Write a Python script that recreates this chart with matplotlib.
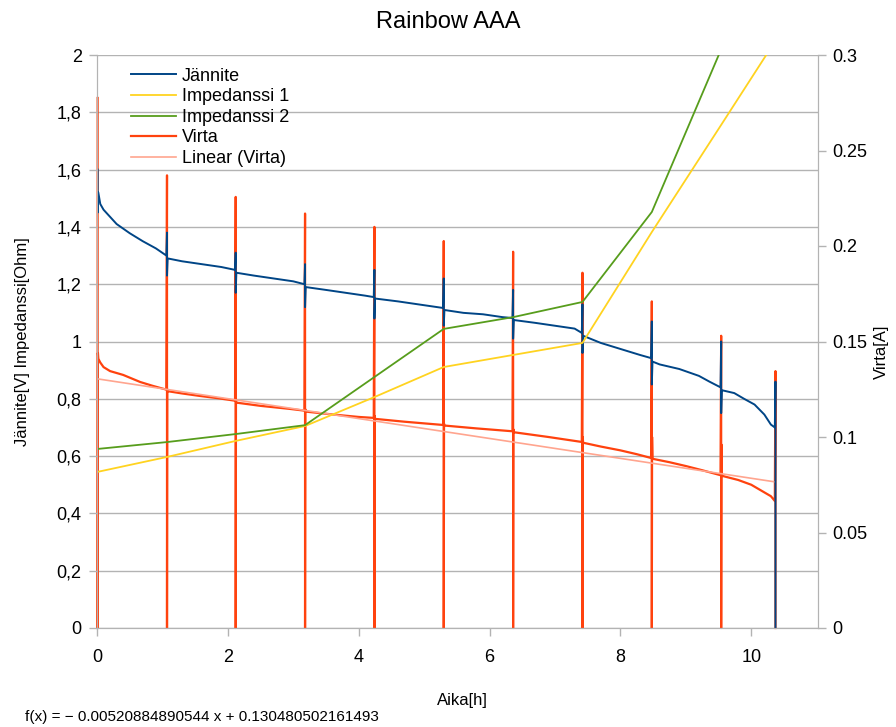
import matplotlib
matplotlib.use("Agg")
import matplotlib.pyplot as plt
import numpy as np
from matplotlib.ticker import FuncFormatter

plt.rcParams['font.family'] = ['Liberation Sans', 'DejaVu Sans']

# ---------------- data ----------------
# pulse (measurement) times [h]
pulse_t = [0.01, 1.07, 2.12, 3.18, 4.24, 5.30, 6.36, 7.42, 8.48, 9.54, 10.37]

# voltage spikes at pulses (high, low) [V]
v_hi = [1.60, 1.38, 1.31, 1.27, 1.25, 1.22, 1.18, 1.13, 1.07, 1.00, 0.86]
v_lo = [1.45, 1.23, 1.17, 1.12, 1.08, 1.055, 1.01, 0.96, 0.85, 0.75, 0.0]

# voltage baseline between pulses: (time, value)
v_seg_t = [
    [0.02, 0.05, 0.1, 0.2, 0.3, 0.5, 0.7, 0.9, 1.06],
    [1.08, 1.3, 1.6, 1.9, 2.11],
    [2.13, 2.4, 2.7, 3.0, 3.17],
    [3.19, 3.5, 3.8, 4.1, 4.23],
    [4.25, 4.6, 4.9, 5.2, 5.29],
    [5.31, 5.6, 5.9, 6.2, 6.35],
    [6.37, 6.7, 7.0, 7.3, 7.41],
    [7.43, 7.7, 8.0, 8.3, 8.47],
    [8.49, 8.6, 8.9, 9.2, 9.36, 9.53],
    [9.55, 9.74, 9.89, 10.05, 10.2, 10.3, 10.36],
]
v_seg_v = [
    [1.52, 1.48, 1.46, 1.435, 1.41, 1.378, 1.35, 1.325, 1.30],
    [1.29, 1.28, 1.27, 1.26, 1.25],
    [1.24, 1.23, 1.22, 1.21, 1.20],
    [1.19, 1.18, 1.17, 1.16, 1.155],
    [1.15, 1.14, 1.13, 1.12, 1.117],
    [1.11, 1.10, 1.095, 1.085, 1.082],
    [1.075, 1.065, 1.055, 1.045, 1.03],
    [1.02, 0.995, 0.974, 0.953, 0.942],
    [0.93, 0.92, 0.904, 0.88, 0.86, 0.84],
    [0.83, 0.82, 0.80, 0.78, 0.745, 0.71, 0.70],
]

# current spikes at pulses (peak) [A], then drop to 0, small bump after
i_peak = [0.2775, 0.237, 0.2257, 0.217, 0.210, 0.2026, 0.197, 0.186, 0.171, 0.153, 0.1345]
i_bump = [0.144, 0.125, 0.119, 0.1145, 0.111, 0.107, 0.104, 0.100, 0.100, 0.096, 0.0]

# current baseline between pulses
i_seg_t = [
    [0.02, 0.05, 0.1, 0.2, 0.4, 0.66, 0.85, 1.06],
    [1.08, 1.3, 1.57, 1.85, 2.11],
    [2.13, 2.5, 2.95, 3.17],
    [3.19, 3.6, 4.0, 4.23],
    [4.25, 4.7, 5.29],
    [5.31, 5.8, 6.35],
    [6.37, 6.9, 7.41],
    [7.43, 7.7, 8.0, 8.25, 8.47],
    [8.49, 8.75, 9.0, 9.25, 9.53],
    [9.55, 9.8, 10.0, 10.2, 10.3, 10.36],
]
i_seg_v = [
    [0.141, 0.139, 0.1366, 0.1345, 0.1325, 0.1288, 0.1268, 0.1248],
    [0.124, 0.1228, 0.1215, 0.1203, 0.119],
    [0.118, 0.1163, 0.1147, 0.1138],
    [0.1133, 0.1118, 0.1105, 0.110],
    [0.1095, 0.108, 0.1063],
    [0.106, 0.1045, 0.103],
    [0.1025, 0.100, 0.0974],
    [0.097, 0.0950, 0.0930, 0.0910, 0.0890],
    [0.0886, 0.0868, 0.0848, 0.0826, 0.0800],
    [0.0797, 0.0775, 0.0750, 0.0710, 0.0690, 0.0665],
]

# impedances at pulse times [Ohm]
imp1 = [0.545, 0.597, 0.653, 0.705, 0.806, 0.911, 0.953, 0.995, 1.382, 1.756, 2.05]
imp2 = [0.625, 0.649, 0.677, 0.708, 0.876, 1.044, 1.085, 1.138, 1.452, 2.02, 2.70]

# linear trend of current (from the chart's own formula)
trend_slope = -0.00520884890544
trend_icept = 0.130480502161493

# ---------------- build series ----------------
vt, vv = [], []
it, iv = [], []
for k, p in enumerate(pulse_t):
    vt += [p, p]
    vv += [v_hi[k], v_lo[k]]
    it += [p, p]
    iv += [i_peak[k], 0.0]
    if i_bump[k] > 0:
        it.append(p + 0.004)
        iv.append(i_bump[k])
    if k < len(v_seg_t):
        vt += v_seg_t[k]
        vv += v_seg_v[k]
        it += i_seg_t[k]
        iv += i_seg_v[k]

# ---------------- figure ----------------
fig = plt.figure(figsize=(8.96, 7.27), dpi=100)
ax1 = fig.add_axes([97/896, 1-628/727, (818-97)/896, (628-55)/727])
ax2 = ax1.twinx()
ax1.set_zorder(ax2.get_zorder() + 1)
ax1.patch.set_visible(False)

gray = '#b3b3b3'
for y in np.arange(0, 2.01, 0.2):
    ax2.axhline(y * 0.15, color=gray, lw=1.0, zorder=0)

c_v = '#004586'
c_i1 = '#ffd320'
c_i2 = '#579d1c'
c_c = '#ff420e'
c_tr = '#ffa58f'

l1, = ax1.plot(vt, vv, color=c_v, lw=1.4, label='Jännite')
l2, = ax1.plot(pulse_t, imp1, color=c_i1, lw=1.3, label='Impedanssi 1')
l3, = ax1.plot(pulse_t, imp2, color=c_i2, lw=1.3, label='Impedanssi 2')
l4, = ax2.plot(it, iv, color=c_c, lw=1.6, label='Virta', clip_on=False)
tx = np.array([0.0, pulse_t[-1]])
l5, = ax2.plot(tx, trend_slope * tx + trend_icept, color=c_tr, lw=1.2, label='Linear (Virta)')

ax1.set_xlim(0, 11.02)
ax1.set_ylim(0, 2)
ax2.set_ylim(0, 0.3)
ax1.set_xticks([0, 2, 4, 6, 8, 10])
ax1.set_yticks(np.arange(0, 2.01, 0.2))
ax1.yaxis.set_major_formatter(FuncFormatter(lambda v, p: ('%g' % round(v, 1)).replace('.', ',')))
ax2.set_yticks([0, 0.05, 0.1, 0.15, 0.2, 0.25, 0.3])
ax2.yaxis.set_major_formatter(FuncFormatter(lambda v, p: '%g' % round(v, 2)))

for ax in (ax1, ax2):
    for s in ax.spines.values():
        s.set_color(gray)
    ax.tick_params(colors=gray, labelcolor='black', labelsize=13, length=6, width=1)
ax1.spines['top'].set_visible(False)
ax2.spines['top'].set_visible(False)
ax1.tick_params(axis='x', pad=9)
ax1.tick_params(axis='y', pad=5)
ax2.tick_params(axis='y', pad=4)

ax1.set_xlabel('Aika[h]', fontsize=12)
ax1.xaxis.set_label_coords((462-97)/(818-97), -(693-628)/(628-55))
ax1.set_ylabel('Jännite[V] Impedanssi[Ohm]', fontsize=12)
ax1.yaxis.set_label_coords(-(97-30)/(818-97), 0.5)
ax2.set_ylabel('Virta[A]', fontsize=12, rotation=90)
ax2.yaxis.set_label_coords((874-97)/(818-97), (628-352)/(628-55))
fig.text(0.5, 1 - 22/727, 'Rainbow AAA', ha='center', va='center', fontsize=17)
fig.text(25/896, 1 - 717/727, 'f(x) = \u2212 0.00520884890544 x + 0.130480502161493',
         ha='left', va='center', fontsize=11)

leg = ax1.legend(handles=[l1, l2, l3, l4, l5], loc='upper left',
                 bbox_to_anchor=(0.03, 1.0), frameon=False, fontsize=13,
                 handlelength=2.5, handletextpad=0.3, labelspacing=0.2,
                 borderaxespad=0.3)

fig.savefig('out.png', dpi=100)
